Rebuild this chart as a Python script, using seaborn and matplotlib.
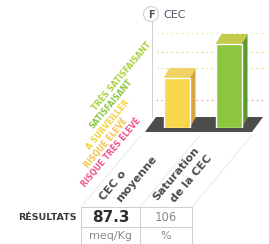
import matplotlib
matplotlib.use("Agg")
import matplotlib.pyplot as plt
import seaborn as sns
import pandas as pd
from matplotlib.patches import Polygon, Rectangle, Circle

# ---- data ----
categories = ["CEC o\nmoyenne", "Saturation\nde la CEC"]
bar_heights = [50, 84]            # bar heights read on the chart's level scale
results = ["87.3", "106"]
units = ["meq/Kg", "%"]
grid_levels = [17, 49, 65, 84]
grid_colors = ["#f4a6b8", "#efe08a", "#d6e98c", "#e4edb4"]
zone_labels = ["TRÈS SATISFAISANT", "SATISFAISANT", "A SURVEILLER", "RISQUE ÉLEVÉ", "RISQUE TRÈS ÉLEVÉ"]
zone_colors = ["#a9d13c", "#8cc63f", "#f3d234", "#f5c24a", "#f0508a"]
bar_front = ["#f8d74c", "#8cc63f"]
bar_side = ["#d8a545", "#5e9a2c"]
bar_top = ["#efd465", "#c2cb4a"]

sns.set_style("white")
plt.rcParams["font.family"] = ["DejaVu Sans"]

W, H = 269, 244
fig = plt.figure(figsize=(W / 100, H / 100), dpi=100)

# background axes in pixel coordinates
bg = fig.add_axes([0, 0, 1, 1])
bg.set_xlim(0, W)
bg.set_ylim(H, 0)
bg.axis("off")

# floor
bg.add_patch(Polygon([(145, 132), (252, 132), (263, 117), (156, 117)],
                     closed=True, facecolor="#4d4d4d", edgecolor="none", zorder=1))
# vertical axis
bg.plot([152, 152], [22, 117], color="#cfcfcf", lw=0.7, zorder=0.5)
# back-wall gridlines
for lv, c in zip(grid_levels, grid_colors):
    y = 117 - lv
    bg.plot([156, 265], [y, y], color=c, lw=0.9, ls=(0, (1.5, 2.5)), zorder=0.5)

# header
bg.add_patch(Circle((151, 14), 7.5, facecolor="white", edgecolor="#d0d0d0", lw=0.8, zorder=2))
bg.text(151, 14.5, "F", ha="center", va="center", fontsize=7, fontweight="bold",
        color="#555555", zorder=3)
bg.text(163, 14.5, "CEC", ha="left", va="center", fontsize=8, color="#555566")

# zone labels (diagonal)
starts = [(96, 111), (93, 129), (90, 150), (88, 168), (85, 187)]
for (x, y), t, c in zip(starts, zone_labels, zone_colors):
    bg.text(x, y, t, rotation=50, rotation_mode="anchor", ha="left", va="baseline",
            fontsize=5.6, fontweight="bold", color=c)

# faint diagonal guide lines
for x0, y0 in [(81, 207), (140, 207), (192, 207)]:
    bg.plot([x0, x0 + 60], [y0, y0 - 72], color="#e6e6e6", lw=0.6, zorder=0.2)

# category labels (each line drawn on its own)
line_starts = [[(104, 201), (121, 203)], [(157, 201), (175, 203)]]
for pos, t in zip(line_starts, categories):
    for (x, y), line in zip(pos, t.split("\n")):
        bg.text(x, y, line, rotation=50, rotation_mode="anchor", ha="left", va="baseline",
                fontsize=8.0, fontweight="bold", color="#4a4a4a")

# results table
bg.text(77, 217, "RÉSULTATS", ha="right", va="center", fontsize=6.8,
        fontweight="bold", color="#3a3a3a")
for x0, x1 in [(81, 140), (140, 192)]:
    bg.add_patch(Rectangle((x0, 207), x1 - x0, 20, fill=False, edgecolor="#cfcfcf", lw=0.7))
    bg.add_patch(Rectangle((x0, 227), x1 - x0, 18, fill=False, edgecolor="#cfcfcf", lw=0.7))
bg.text(110.5, 217.5, results[0], ha="center", va="center", fontsize=11,
        fontweight="bold", color="#2f2f2f")
bg.text(166, 217.5, results[1], ha="center", va="center", fontsize=8.5, color="#8a8a8a")
bg.text(110.5, 236, units[0], ha="center", va="center", fontsize=8, color="#8a8a8a")
bg.text(166, 236, units[1], ha="center", va="center", fontsize=8, color="#8a8a8a")

# bar axes (front plane, 1 data unit = 1 pixel vertically)
left_px, right_px, floor_px, top_px = 150.5, 254.5, 128, 20
ax = fig.add_axes([left_px / W, (H - floor_px) / H, (right_px - left_px) / W,
                   (floor_px - top_px) / H])
ax.patch.set_alpha(0)
df = pd.DataFrame({"cat": categories, "h": bar_heights})
sns.barplot(data=df, x="cat", y="h", hue="cat", palette=bar_front, width=0.5,
            legend=False, ax=ax, saturation=1, zorder=3)
ax.set_xlim(-0.5, 1.5)
ax.set_ylim(0, floor_px - top_px)
ax.axis("off")

px_per_unit = (right_px - left_px) / 2
dx, dy = 6 / px_per_unit, 10
for p, cs, ct in zip(ax.patches, bar_side, bar_top):
    x0, w, h = p.get_x(), p.get_width(), p.get_height()
    ax.add_patch(Polygon([(x0 + w, 0), (x0 + w + dx, dy), (x0 + w + dx, h + dy), (x0 + w, h)],
                         closed=True, facecolor=cs, edgecolor="none", clip_on=False, zorder=2))
    ax.add_patch(Polygon([(x0, h), (x0 + w, h), (x0 + w + dx, h + dy), (x0 + dx, h + dy)],
                         closed=True, facecolor=ct, edgecolor="none", clip_on=False, zorder=2))

fig.savefig("out.png", dpi=100)
